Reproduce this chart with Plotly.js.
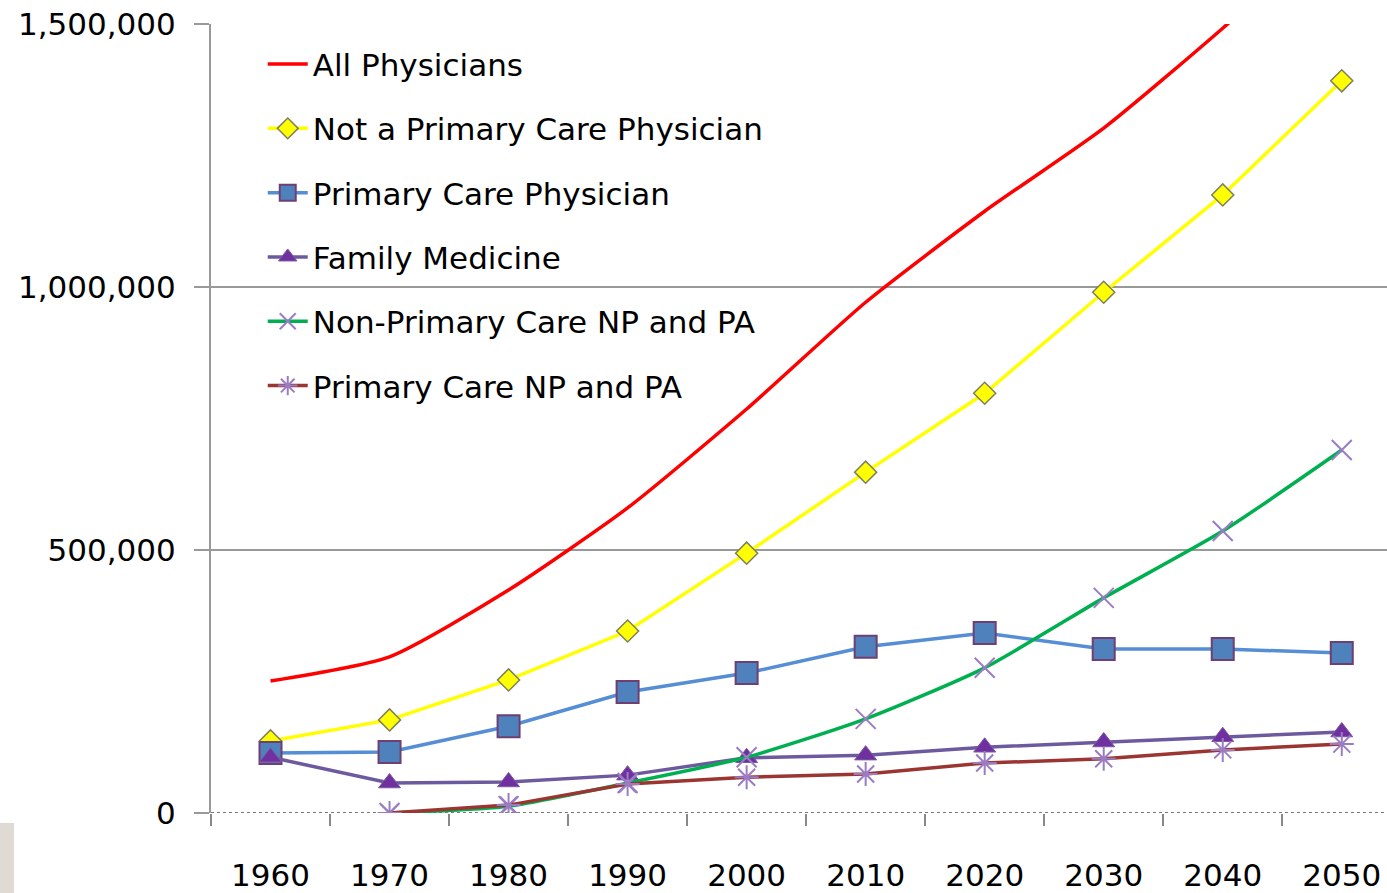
<!DOCTYPE html>
<html>
<head>
<meta charset="utf-8">
<script src="https://cdn.plot.ly/plotly-3.0.1.min.js"></script>
<style>html,body{margin:0;padding:0;background:#fff;}#chart{width:1387px;height:893px;}</style>
</head>
<body>
<div id="chart"></div>
<script>
const years = ['1960','1970','1980','1990','2000','2010','2020','2030','2040','2050'];
const allPhysicians = [251000, 297000, 424000, 580000, 768000, 971000, 1144000, 1302000, 1492000, 1696000];
const notPrimaryCare = [137000, 177000, 253000, 346000, 494000, 648000, 798000, 990000, 1175000, 1392000];
const primaryCarePhysician = [114000, 116000, 165000, 230000, 266000, 316000, 342000, 312000, 312000, 304000];
const familyMedicine = [106000, 57000, 59000, 72000, 105000, 110000, 125000, 135000, 145000, 154000];
const nonPrimaryNPPA = [null, 0, 13000, 57000, 106000, 179000, 276000, 409000, 536000, 690000];
const primaryNPPA = [null, 0, 15000, 55000, 68000, 74000, 95000, 103000, 120000, 131000];
const seriesNames = ['All Physicians','Not a Primary Care Physician','Primary Care Physician','Family Medicine','Non-Primary Care NP and PA','Primary Care NP and PA'];

const FONT = 'DejaVu Sans, sans-serif';
const traces = [
  {x: years, y: allPhysicians, name: seriesNames[0], mode: 'lines', line: {color: '#ff0000', width: 3.5, shape: 'spline', smoothing: 0.6}},
  {x: years, y: notPrimaryCare, name: seriesNames[1], mode: 'lines+markers', line: {color: '#ffff00', width: 3.5},
   marker: {symbol: 'diamond', size: 17, color: '#ffff00', line: {color: '#7f7f5f', width: 1.5}}},
  {x: years, y: primaryCarePhysician, name: seriesNames[2], mode: 'lines+markers', line: {color: '#558ed5', width: 3.5},
   marker: {symbol: 'square', size: 22, color: '#4f81bd', line: {color: '#6e3f72', width: 2}}},
  {x: years, y: familyMedicine, name: seriesNames[3], mode: 'lines+markers', line: {color: '#6d5a9e', width: 3.5},
   marker: {symbol: 'triangle-up', size: 19, color: '#7030a0', line: {color: '#7a5aa0', width: 1}}},
  {x: years, y: nonPrimaryNPPA, name: seriesNames[4], mode: 'lines+markers', line: {color: '#00b050', width: 3.5, shape: 'spline', smoothing: 0.6},
   marker: {symbol: 'x-thin-open', size: 20, color: '#9a7cc4', line: {color: '#9a7cc4', width: 2}}},
  {x: years, y: primaryNPPA, name: seriesNames[5], mode: 'lines+markers', line: {color: '#9b3531', width: 3.5},
   marker: {symbol: 'asterisk-open', size: 20, color: '#9a7cc4', line: {color: '#9a7cc4', width: 2}}}
];
traces.forEach((t, i) => { t.legendgroup = 'g' + i; t.connectgaps = false; });

const layout = {
  width: 1387, height: 893,
  margin: {l: 211, r: 0, t: 24, b: 80, pad: 0},
  paper_bgcolor: '#ffffff', plot_bgcolor: '#ffffff',
  font: {family: FONT, size: 31, color: '#000000'},
  showlegend: true,
  legend: {x: 0.044, y: 0.983, xanchor: 'left', yanchor: 'top', bgcolor: 'rgba(0,0,0,0)',
           font: {family: FONT, size: 31, color: '#000'}, traceorder: 'grouped', tracegroupgap: 21, itemwidth: 40},
  xaxis: {type: 'category', range: [-0.5, 9.38], tickson: 'boundaries', ticks: 'outside', ticklen: 12, tickwidth: 2,
          tickcolor: '#888888', showgrid: false, showline: false, zeroline: false, ticklabelstandoff: 41,
          tickfont: {family: FONT, size: 31, color: '#000'}, fixedrange: true},
  yaxis: {range: [0, 1500000], tickvals: [0, 500000, 1000000, 1500000], tickformat: ',', ticks: 'outside', ticklen: 15,
          tickwidth: 2, tickcolor: '#999999', showgrid: true, gridcolor: '#999999', gridwidth: 2, showline: true,
          linecolor: '#999999', linewidth: 2, zeroline: false, ticklabelstandoff: 12,
          tickfont: {family: FONT, size: 31, color: '#000'}, fixedrange: true},
  shapes: [
    {type: 'line', xref: 'paper', yref: 'y', x0: 0, x1: 1, y0: 0, y1: 0, line: {color: '#7a7a7a', width: 2, dash: 'dot'}, layer: 'below'},
    {type: 'rect', xref: 'paper', yref: 'paper', x0: (0 - 211) / 1176, x1: (14 - 211) / 1176, y0: (813 - 893) / 789, y1: (813 - 823) / 789,
     fillcolor: '#e0dad5', line: {width: 0}}
  ]
};
Plotly.newPlot('chart', traces, layout, {displayModeBar: false, staticPlot: true});
</script>
</body>
</html>
